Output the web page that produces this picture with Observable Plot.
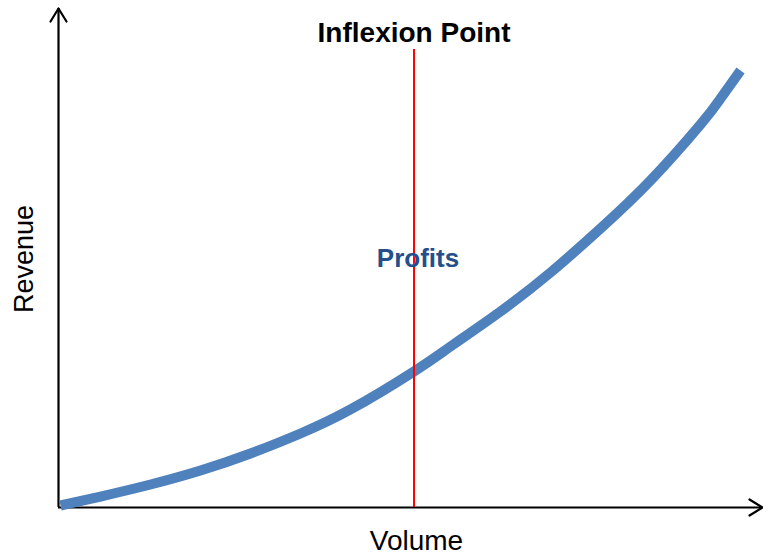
<!DOCTYPE html>
<html>
<head>
<meta charset="utf-8">
<script src="https://cdn.jsdelivr.net/npm/d3@7"></script>
<script src="https://cdn.jsdelivr.net/npm/@observablehq/plot@0.6"></script>
<style>
  html, body { margin: 0; padding: 0; background: #fff; overflow: hidden; }
  #chart { width: 763px; height: 554px; }
  #chart svg { display: block; }
</style>
</head>
<body>
<div id="chart"></div>
<script>
// Curve: volume (x) vs revenue (y), in arbitrary units 0–100
const volume  = [0.28, 5.97, 13.07, 20.17, 27.27, 34.38, 41.48, 50.43, 55.68, 62.78, 69.89, 76.99, 84.09, 91.19, 94.03, 96.88];
const revenue = [0.40, 2.20, 4.61, 7.41, 10.82, 14.83, 19.64, 27.21, 32.26, 39.28, 47.09, 55.91, 65.53, 76.75, 81.96, 87.58];

// Inflexion point marker
const inflexionX = [50.5];
const inflexionTop = [91.8];

// Axis extents
const xDomain = [0, 100];
const yDomain = [0, 100];

// Texts
const titleText = "Inflexion Point";
const profitsText = "Profits";
const xLabel = "Volume";
const yLabel = "Revenue";

const curve = volume.map((v, i) => ({x: v, y: revenue[i]}));
const rule = inflexionX.map((x, i) => ({x, y1: 0, y2: inflexionTop[i]}));
// arrowheads at the ends of the two axes (pointing up and right)
const heads = [
  {x: xDomain[0], y: yDomain[1], rotate: 0},
  {x: xDomain[1], y: yDomain[0], rotate: 90}
];
const chevron = {
  draw(context) {
    context.moveTo(-8, 13);
    context.lineTo(0, 0);
    context.lineTo(8, 13);
  }
};

const font = "'Liberation Sans', Arial, Helvetica, sans-serif";

const chart = Plot.plot({
  width: 763,
  height: 554,
  marginLeft: 58,
  marginRight: 1,
  marginTop: 8,
  marginBottom: 47,
  x: {domain: xDomain, axis: null},
  y: {domain: yDomain, axis: null},
  style: {fontFamily: font, background: "#fff", maxWidth: "none"},
  marks: [
    Plot.ruleY([yDomain[0]], {x1: xDomain[0], x2: xDomain[1], stroke: "#000", strokeWidth: 2.2}),
    Plot.ruleX([xDomain[0]], {y1: yDomain[0], y2: yDomain[1], stroke: "#000", strokeWidth: 2.2}),
    Plot.vector(heads, {x: "x", y: "y", rotate: "rotate", length: 13, anchor: "start", shape: chevron, stroke: "#000", strokeWidth: 2.2}),
    Plot.line(curve, {x: "x", y: "y", stroke: "#4f81bd", strokeWidth: 10, curve: "natural", strokeLinecap: "butt"}),
    Plot.ruleX(rule, {x: "x", y1: "y1", y2: "y2", stroke: "#ff0000", strokeWidth: 2}),
    Plot.text([titleText], {x: inflexionX[0], frameAnchor: "top", lineAnchor: "middle", textAnchor: "middle", dy: 25, text: d => d, fontSize: 28, fontWeight: "bold", fill: "#000"}),
    Plot.text([profitsText], {x: inflexionX[0], frameAnchor: "middle", lineAnchor: "middle", textAnchor: "middle", dx: 4, dy: 1, text: d => d, fontSize: 26, fontWeight: "bold", fill: "#23508a"}),
    Plot.text([xLabel], {frameAnchor: "bottom", lineAnchor: "middle", textAnchor: "middle", dx: 6, dy: 34, text: d => d, fontSize: 28, fill: "#000"}),
    Plot.text([yLabel], {frameAnchor: "left", lineAnchor: "middle", textAnchor: "middle", rotate: -90, dx: -34, dy: 1, text: d => d, fontSize: 27, fill: "#000"})
  ]
});
document.getElementById("chart").appendChild(chart);
</script>
</body>
</html>
